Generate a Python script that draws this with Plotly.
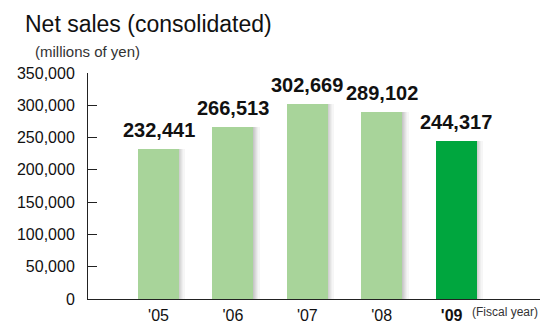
import plotly.graph_objects as go

# Net sales by fiscal year (millions of yen)
years = ["'05", "'06", "'07", "'08", "'09"]
net_sales = [232441, 266513, 302669, 289102, 244317]
bar_colors = ["#a8d49a", "#a8d49a", "#a8d49a", "#a8d49a", "#00a63e"]
y_ticks = [0, 50000, 100000, 150000, 200000, 250000, 300000, 350000]

FONT = "Liberation Sans, Arial, sans-serif"
positions = list(range(len(years)))
bar_width = 0.55
px = 1 / 74.4  # one pixel in category units

fig = go.Figure()

# soft grey shadow on the right side of each bar, built from thin strips
shadow_greys = ["#c6c6c6", "#d0d0d0", "#dadada", "#e4e4e4", "#eeeeee", "#f6f6f6"]
for k, grey in enumerate(shadow_greys):
    fig.add_trace(go.Bar(
        x=positions, y=net_sales,
        width=[px * 1.05] * len(years),
        offset=bar_width / 2 + k * px,
        marker=dict(color=grey, line=dict(width=0)),
        hoverinfo="skip", showlegend=False,
    ))

fig.add_trace(go.Bar(
    x=positions, y=net_sales,
    width=[bar_width] * len(years),
    offset=-bar_width / 2,
    marker=dict(color=bar_colors, line=dict(width=0)),
    showlegend=False,
))

# value labels above the bars
for xi, v in zip(positions, net_sales):
    fig.add_annotation(
        x=xi, y=v, xref="x", yref="y",
        text=f"<b>{v:,}</b>", showarrow=False,
        yanchor="bottom", yshift=6,
        font=dict(family=FONT, size=20, color="#111111"),
    )

fig.add_annotation(
    x=-0.1438, y=1.2168, xref="paper", yref="paper",
    xanchor="left", yanchor="middle",
    text="Net sales (consolidated)", showarrow=False,
    font=dict(family=FONT, size=23, color="#111111"),
)
fig.add_annotation(
    x=-0.1217, y=1.094, xref="paper", yref="paper",
    xanchor="left", yanchor="middle",
    text="(millions of yen)", showarrow=False,
    font=dict(family=FONT, size=15, color="#333333"),
)
fig.add_annotation(
    x=1.0, y=-0.058, xref="paper", yref="paper",
    xanchor="right", yanchor="middle",
    text="(Fiscal year)", showarrow=False,
    font=dict(family=FONT, size=12, color="#333333"),
)

# latest year is bold and nudged left to leave room for the unit label
tick_text = [f"<b>{y}</b>\u00a0\u00a0" if i == len(years) - 1 else y
             for i, y in enumerate(years)]

fig.update_layout(
    width=542, height=331,
    margin=dict(l=88, r=2, t=73, b=32),
    paper_bgcolor="white", plot_bgcolor="white",
    barmode="overlay", bargap=0,
    font=dict(family=FONT, color="#111111"),
    xaxis=dict(
        range=[-0.948, 5.128],
        tickvals=positions, ticktext=tick_text,
        showline=True, linecolor="#222222", linewidth=1,
        ticks="", showgrid=False, zeroline=False,
        tickfont=dict(family=FONT, size=16, color="#111111"),
        ticklabelstandoff=2,
        fixedrange=True,
    ),
    yaxis=dict(
        range=[0, 350000],
        tickvals=y_ticks, tickformat=",",
        showline=True, linecolor="#222222", linewidth=1,
        ticks="inside", ticklen=9, tickcolor="#222222", tickwidth=1,
        showgrid=False, zeroline=False,
        tickfont=dict(family=FONT, size=16, color="#111111"),
        ticklabelstandoff=9,
        fixedrange=True,
    ),
)

fig.write_html("out.html")
